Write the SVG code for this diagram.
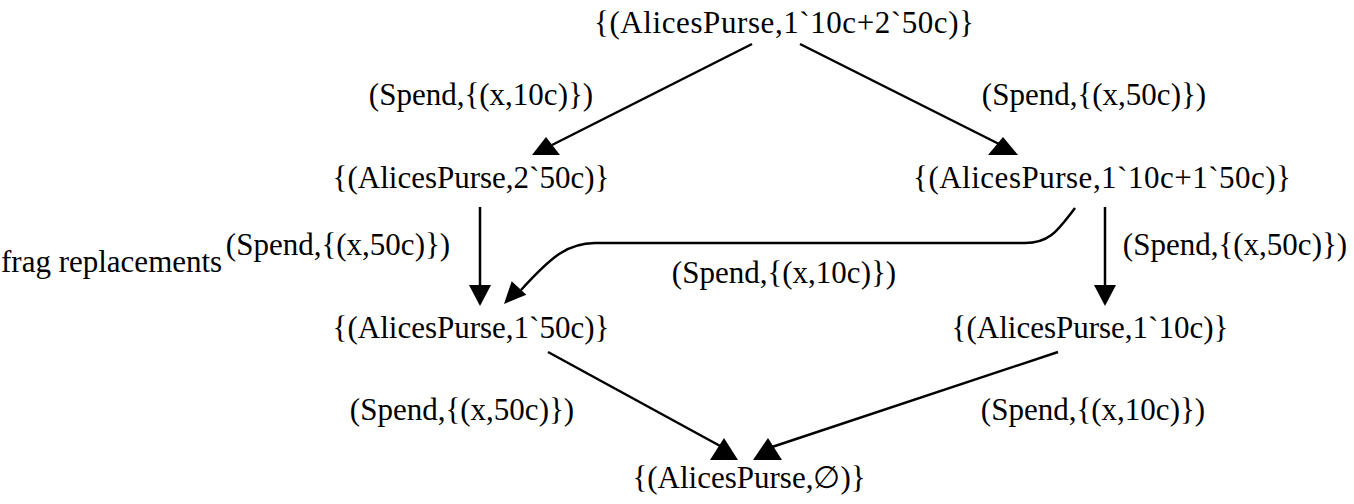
<svg xmlns="http://www.w3.org/2000/svg" width="1354" height="504" viewBox="0 0 1354 504">
<style>
text{font-family:"Liberation Serif","Times New Roman",serif;font-size:31px;fill:#000}
.n{text-anchor:middle}
.l{text-anchor:middle}
.e{stroke:#000;stroke-width:2.5;fill:none}
.h{fill:#000;stroke:none}
</style>
<rect width="1354" height="504" fill="#fff"/>
<text x="1" y="272" font-size="30">frag replacements</text>
<g id="n0"><text class="n" x="784" y="33" textLength="380" lengthAdjust="spacing">{(AlicesPurse,1`10c+2`50c)}</text></g>
<g id="n1"><text class="n" x="471" y="188">{(AlicesPurse,2`50c)}</text></g>
<g id="n2"><text class="n" x="1102" y="188" textLength="378" lengthAdjust="spacing">{(AlicesPurse,1`10c+1`50c)}</text></g>
<g id="n3"><text class="n" x="471" y="338">{(AlicesPurse,1`50c)}</text></g>
<g id="n4"><text class="n" x="1090" y="338">{(AlicesPurse,1`10c)}</text></g>
<g id="n5"><text class="n" x="749" y="488">{(AlicesPurse,∅)}</text></g>
<g id="connectors">
<line class="e" x1="752" y1="44" x2="552" y2="145"/>
<polygon class="h" points="546,137 532,155 560,155"/>
<line class="e" x1="800" y1="44" x2="1005" y2="147"/>
<polygon class="h" points="1003,137 988,155 1018,155"/>
<line class="e" x1="480" y1="207" x2="480" y2="287"/>
<polygon class="h" points="469,285 491,285 480,306"/>
<line class="e" x1="1105" y1="207" x2="1105" y2="287"/>
<polygon class="h" points="1094,285 1116,285 1105,306"/>
<path class="e" d="M1075,208 C1058,230 1050,243 1025,243 L595,243 C568,243 552,256 521,290"/>
<polygon class="h" points="504,304 511.7,281.2 526.3,294.8"/>
<line class="e" x1="548" y1="352" x2="722" y2="447"/>
<polygon class="h" points="724,438 710,460 738,460"/>
<line class="e" x1="1058" y1="352" x2="772" y2="447"/>
<polygon class="h" points="768,438 753,460 782,460"/>
</g>
<g id="labels">
<text class="l" x="481" y="105">(Spend,{(x,10c)})</text>
<text class="l" x="1094" y="105">(Spend,{(x,50c)})</text>
<text class="l" x="338" y="255">(Spend,{(x,50c)})</text>
<text class="l" x="1235" y="255">(Spend,{(x,50c)})</text>
<text class="l" x="784" y="283">(Spend,{(x,10c)})</text>
<text class="l" x="462" y="420">(Spend,{(x,50c)})</text>
<text class="l" x="1093" y="420">(Spend,{(x,10c)})</text>
</g>
</svg>
